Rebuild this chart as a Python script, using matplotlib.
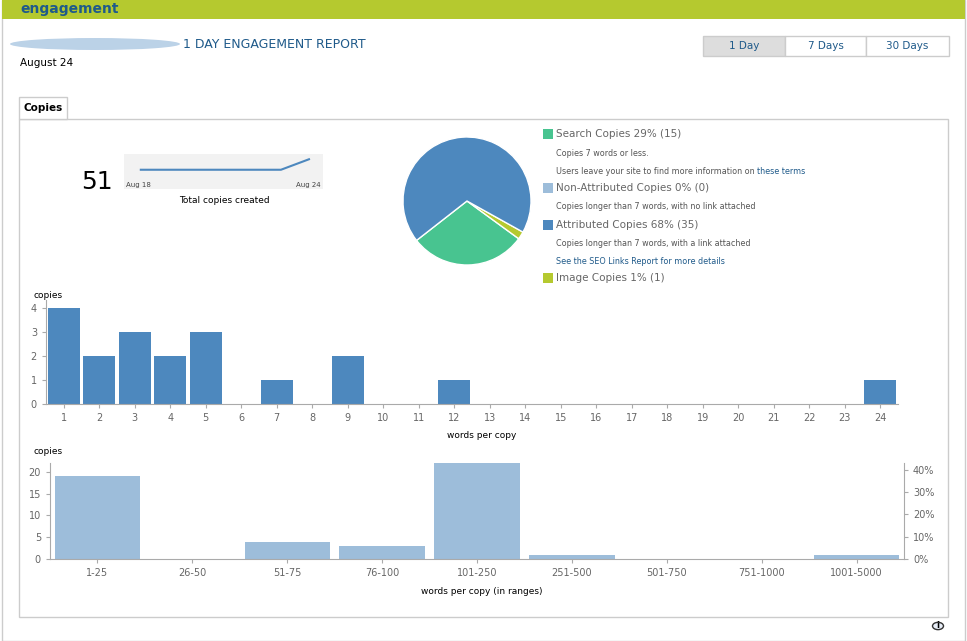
import matplotlib.pyplot as plt
from matplotlib.patches import Rectangle, Ellipse, Circle

W, H = 967, 641

# data
spark_values = [51, 51, 51, 51, 51, 51, 57]
total_copies = 51
pie_labels = ["Search Copies 29% (15)", "Image Copies 1% (1)", "Attributed Copies 68% (35)"]
pie_values = [15, 1, 35]
pie_colors = ["#48c490", "#b5c92f", "#4d88be"]
words = list(range(1, 25))
word_counts = [4, 2, 3, 2, 3, 0, 1, 0, 2, 0, 0, 1, 0, 0, 0, 0, 0, 0, 0, 0, 0, 0, 0, 1]
ranges = ["1-25", "26-50", "51-75", "76-100", "101-250", "251-500", "501-750", "751-1000", "1001-5000"]
range_counts = [19, 0, 4, 3, 22, 1, 0, 0, 1]

fig = plt.figure(figsize=(W / 100, H / 100), dpi=100)
plt.rcParams['font.family'] = ['DejaVu Sans']
GRAY = "#666666"
LINK = "#1f5a8a"


def ax_px(x0, y0, w, h):
    ax = fig.add_axes([x0 / W, 1 - (y0 + h) / H, w / W, h / H])
    ax.set_zorder(5)
    return ax


def tx(x, y, s, **kw):
    fig.text(x / W, 1 - y / H, s, va="center", **kw)


def rect(x, y, w, h, **kw):
    fig.patches.append(Rectangle((x / W, 1 - (y + h) / H), w / W, h / H,
                                 transform=fig.transFigure, zorder=-1, **kw))


# page frame
rect(2, 0, 963, 641, facecolor="white", edgecolor="#cccccc", lw=1)
rect(2, 0, 963, 19, facecolor="#b5c92f", edgecolor="none")
tx(20, 9, "engagement", color=LINK, fontsize=10, fontweight="bold")
fig.patches.append(Ellipse((95 / W, 1 - 44 / H), 170 / W, 12 / H, transform=fig.transFigure,
                           facecolor="#8fb4d8", alpha=0.6, edgecolor="none"))
tx(183, 44, "1 DAY ENGAGEMENT REPORT", color=LINK, fontsize=9)
tx(20, 63, "August 24", color="black", fontsize=7.5)

for i, (lab, x0, x1) in enumerate([("1 Day", 703, 785), ("7 Days", 785, 866), ("30 Days", 866, 949)]):
    rect(x0, 36, x1 - x0, 20, facecolor="#dddddd" if i == 0 else "white", edgecolor="#cccccc", lw=1)
    tx((x0 + x1) / 2, 46, lab, color=LINK, fontsize=7.5, ha="center")

rect(19, 119, 929, 498, facecolor="white", edgecolor="#cccccc", lw=1)
rect(19, 97, 48, 22, facecolor="white", edgecolor="#cccccc", lw=1)
tx(43, 108, "Copies", color="black", fontsize=7.5, ha="center", fontweight="bold")

# total + sparkline
tx(97, 182, str(total_copies), fontsize=18, ha="center")
sp = ax_px(124, 154, 199, 35)
sp.set_facecolor("#f2f2f2")
sp.plot(range(len(spark_values)), spark_values, color="#4d88be", lw=1.5)
sp.set_xlim(-0.6, 6.5)
sp.set_ylim(40, 60)
sp.set_xticks([])
sp.set_yticks([])
for s in sp.spines.values():
    s.set_visible(False)
sp.text(0.01, 0.12, "Aug 18", fontsize=5, color="#444444", transform=sp.transAxes, va="center")
sp.text(0.99, 0.12, "Aug 24", fontsize=5, color="#444444", transform=sp.transAxes, va="center", ha="right")
tx(224, 201, "Total copies created", fontsize=6.5, ha="center")

# pie
pa = ax_px(403, 137, 128, 128)
pa.pie(pie_values, colors=pie_colors, startangle=218, counterclock=True,
       wedgeprops=dict(edgecolor="white", linewidth=1))
pa.set_aspect("auto")
pa.set_xlim(-1, 1)
pa.set_ylim(-1, 1)

items = [
    (134, "sq", "#48c490", "Search Copies 29% (15)"),
    (154, "sub", None, "Copies 7 words or less."),
    (171, "subl", None, ""),
    (188, "sq", "#9dbdda", "Non-Attributed Copies 0% (0)"),
    (207, "sub", None, "Copies longer than 7 words, with no link attached"),
    (225, "sq", "#4d88be", "Attributed Copies 68% (35)"),
    (243, "sub", None, "Copies longer than 7 words, with a link attached"),
    (261, "link", None, "See the SEO Links Report for more details"),
    (278, "sq", "#b5c92f", "Image Copies 1% (1)"),
]
for y, kind, col, s in items:
    if kind == "sq":
        rect(543, y - 5, 10, 10, facecolor=col, edgecolor="none")
        tx(556, y, s, fontsize=7.5, color=GRAY)
    elif kind == "sub":
        tx(556, y, s, fontsize=5.8, color="#555555")
    elif kind == "link":
        tx(556, y, s, fontsize=5.8, color=LINK)
    else:
        tx(556, y, "Users leave your site to find more information on", fontsize=5.8, color="#555555")
        tx(757, y, "these terms", fontsize=5.8, color=LINK)


def style(ax):
    for k in ["top", "right"]:
        ax.spines[k].set_visible(False)
    for k in ["left", "bottom"]:
        ax.spines[k].set_color("#aaaaaa")
    ax.tick_params(colors="#aaaaaa", labelcolor=GRAY, labelsize=7, length=3)


# bar chart 1
b1 = ax_px(46, 300, 852, 104)
b1.bar(words, word_counts, width=0.9, color="#4d88be")
b1.set_xlim(0.5, 24.5)
b1.set_ylim(0, 4.33)
b1.set_xticks(words)
b1.set_yticks(range(5))
style(b1)
tx(33, 296, "copies", fontsize=6.5)
tx(482, 436, "words per copy", fontsize=6.5, ha="center")

# bar chart 2
b2 = ax_px(50, 463, 854, 96)
b2.bar(range(len(ranges)), range_counts, width=0.9, color="#9dbdda")
b2.set_xlim(-0.5, len(ranges) - 0.5)
b2.set_ylim(0, 22)
b2.set_xticks(range(len(ranges)))
b2.set_xticklabels(ranges)
b2.set_yticks([0, 5, 10, 15, 20])
style(b2)
r2 = b2.twinx()
r2.set_zorder(6)
r2.set_ylim(0, 22 / total_copies * 100)
r2.set_yticks([0, 10, 20, 30, 40])
r2.set_yticklabels(["0%", "10%", "20%", "30%", "40%"])
for k in ["top", "left", "bottom"]:
    r2.spines[k].set_visible(False)
r2.spines["right"].set_color("#aaaaaa")
r2.tick_params(colors="#aaaaaa", labelcolor=GRAY, labelsize=7, length=3)
tx(33, 451, "copies", fontsize=6.5)
tx(482, 591, "words per copy (in ranges)", fontsize=6.5, ha="center")

# info icon
fig.patches.append(Circle((938 / W, 1 - 626 / H), 5.5 / W, transform=fig.transFigure,
                          facecolor="#e8eef8", edgecolor="#333333", lw=1))
tx(938, 626, "i", fontsize=6, ha="center", fontweight="bold")

fig.savefig("out.png", dpi=100)
